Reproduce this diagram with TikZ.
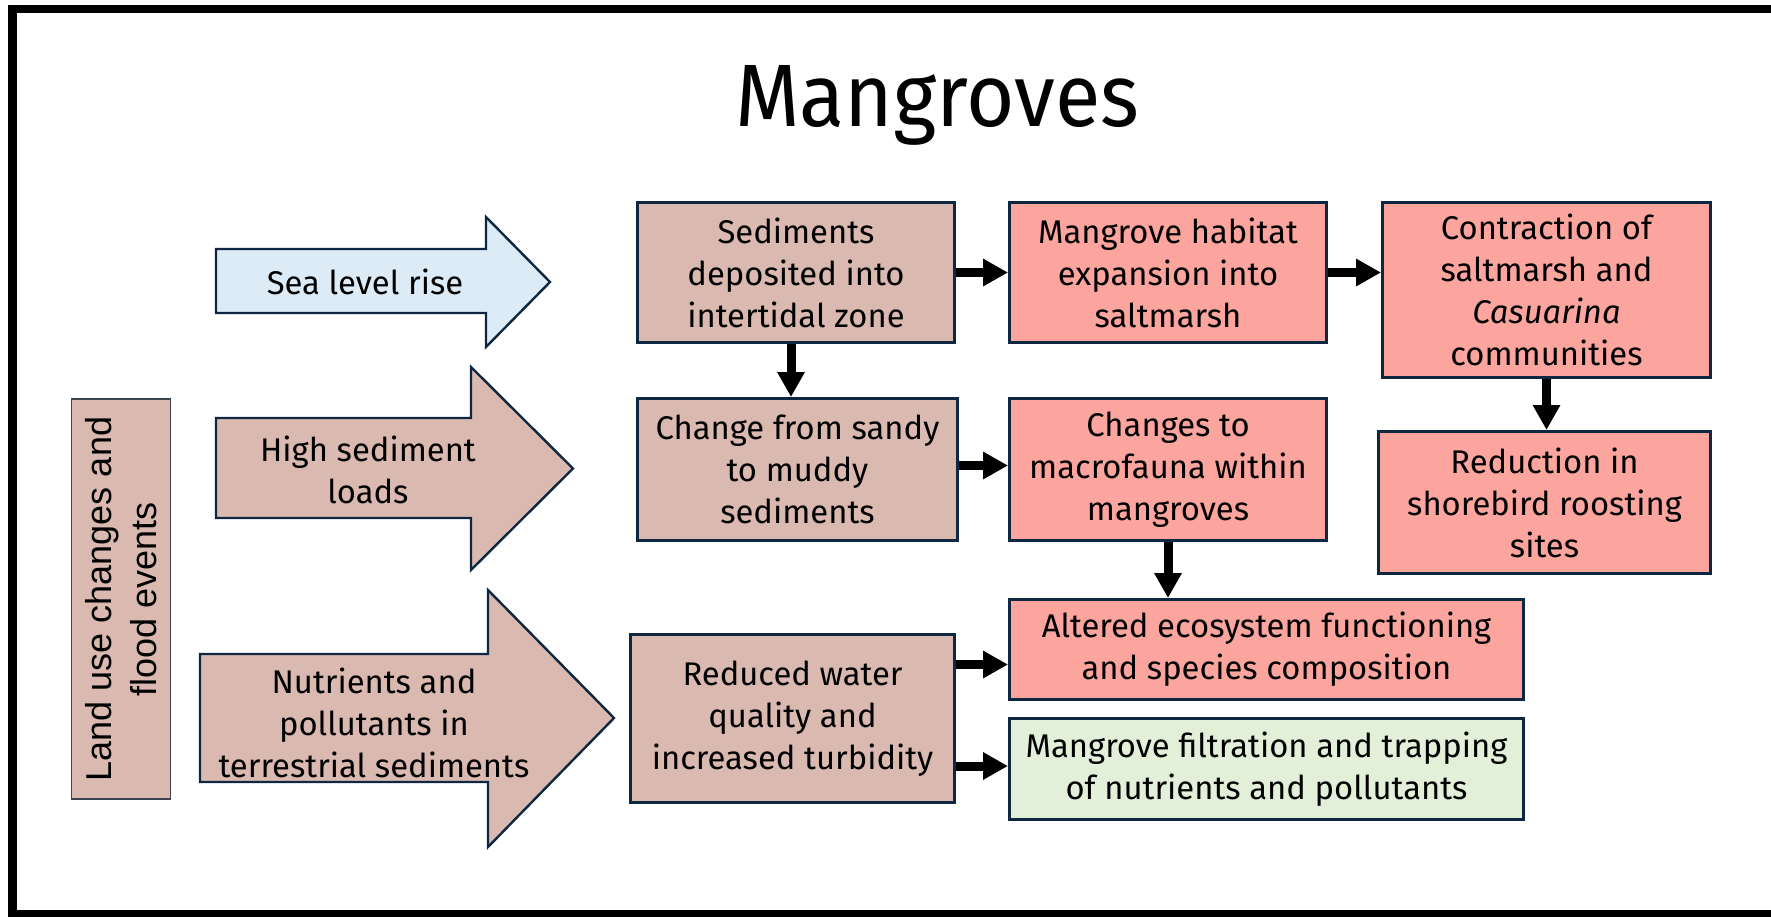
\documentclass[tikz,border=0pt]{standalone}
\usepackage{fontspec}
\usepackage{graphicx}
\setmainfont{Fira Sans}
\newfontfamily\landfont{Liberation Sans}
\usetikzlibrary{arrows.meta}
\definecolor{navy}{HTML}{0E2841}
\definecolor{brownf}{HTML}{D9B9B0}
\definecolor{salmon}{HTML}{FBA59E}
\definecolor{bluef}{HTML}{DDEBF7}
\definecolor{greenf}{HTML}{E2F0D9}
\definecolor{landline}{HTML}{3A4550}
\tikzset{
  txt/.style={align=center, inner sep=0pt, text=black, font=\fontsize{16.4}{21}\selectfont},
  box/.style={txt, draw=navy, line width=1.5pt},
  brownbox/.style={box, fill=brownf},
  redbox/.style={box, fill=salmon},
  greenbox/.style={box, fill=greenf},
  landbox/.style={align=center, inner sep=0pt, draw=landline, line width=0.6pt, fill=brownf,
    font=\landfont\fontsize{18}{22.5}\selectfont},
  conn/.style={line width=4.5pt, -{Triangle[length=12.5pt,width=13pt]}},
  blockarrow/.style={draw=navy, line width=1.2pt, line join=miter},
}
\begin{document}
\begin{tikzpicture}[x=0.5pt,y=-0.5pt]
\useasboundingbox (0,0) rectangle (1771,916);
\fill[white] (0,0) rectangle (1771,916);
\clip (0,0) rectangle (1771,916);
% frame
\draw[line width=4.25pt] (1800,914) -- (12.5,914) -- (12.5,9) -- (1800,9);
% title
\node[anchor=base, inner sep=0pt] (title) at (937,126) {\resizebox{202pt}{30.5pt}{\fontsize{40}{48}\selectfont Mangroves}};
% side box
\node[landbox, rotate=90, minimum width=200pt, minimum height=49.5pt] (land) at (121,599) {Land use changes and\\flood events};
% block arrows
\draw[blockarrow, fill=bluef] (216,249) -- (486,249) -- (486,217) -- (550,282) -- (486,347) -- (486,313) -- (216,313) -- cycle;
\node[txt] (sea) at (365,282) {Sea level rise};
\draw[blockarrow, fill=brownf] (216,418) -- (471,418) -- (471,367) -- (573,468.5) -- (471,570) -- (471,518) -- (216,518) -- cycle;
\node[txt] (high) at (368,470) {High sediment\\loads};
\draw[blockarrow, fill=brownf] (200,654) -- (488,654) -- (488,590) -- (614,718) -- (488,847) -- (488,782) -- (200,782) -- cycle;
\node[txt] (nutr) at (374,723) {Nutrients and\\pollutants in\\terrestrial sediments};
% boxes
\node[brownbox, minimum width=158.5pt, minimum height=70pt] (b1) at (796,272.5) {Sediments\\deposited into\\intertidal zone};
\node[redbox, minimum width=158.5pt, minimum height=70pt] (b2) at (1168,272.5) {Mangrove habitat\\expansion into\\saltmarsh};
\node[redbox, minimum width=164pt, minimum height=87.5pt] (b3) at (1546.5,290) {Contraction of\\saltmarsh and\\\textit{Casuarina}\\communities};
\node[redbox, minimum width=166pt, minimum height=71pt] (b4) at (1544.5,502.5) {Reduction in\\shorebird roosting\\sites};
\node[brownbox, minimum width=160pt, minimum height=71pt] (b5) at (797.5,469.5) {Change from sandy\\to muddy\\sediments};
\node[redbox, minimum width=158.5pt, minimum height=71pt] (b6) at (1168,469.5) {Changes to\\macrofauna within\\mangroves};
\node[redbox, minimum width=257pt, minimum height=50pt] (b7) at (1266.5,649.5) {Altered ecosystem functioning\\and species composition};
\node[greenbox, minimum width=257pt, minimum height=50.5pt] (b8) at (1266.5,769) {Mangrove filtration and trapping\\of nutrients and pollutants};
\node[brownbox, minimum width=162pt, minimum height=84pt] (b9) at (792.5,718.5) {Reduced water\\quality and\\increased turbidity};
% connectors
\draw[conn] (b1) -- (b2);
\draw[conn] (b2.east) -- (b2.east -| b3.west);
\draw[conn] ([xshift=-2.5pt]b1.south) -- ([xshift=-2.5pt]b1.south |- b5.north);
\draw[conn] (b3.south) -- (b3.south |- b4.north);
\draw[conn] ([yshift=2pt]b5.east) -- ([yshift=2pt]b5.east -| b6.west);
\draw[conn] (b6.south) -- (b6.south |- b7.north);
\draw[conn] ([yshift=27pt]b9.east) -- ([yshift=27pt]b9.east -| b7.west);
\draw[conn] ([yshift=-23.75pt]b9.east) -- ([yshift=-23.75pt]b9.east -| b8.west);
\end{tikzpicture}
\end{document}
